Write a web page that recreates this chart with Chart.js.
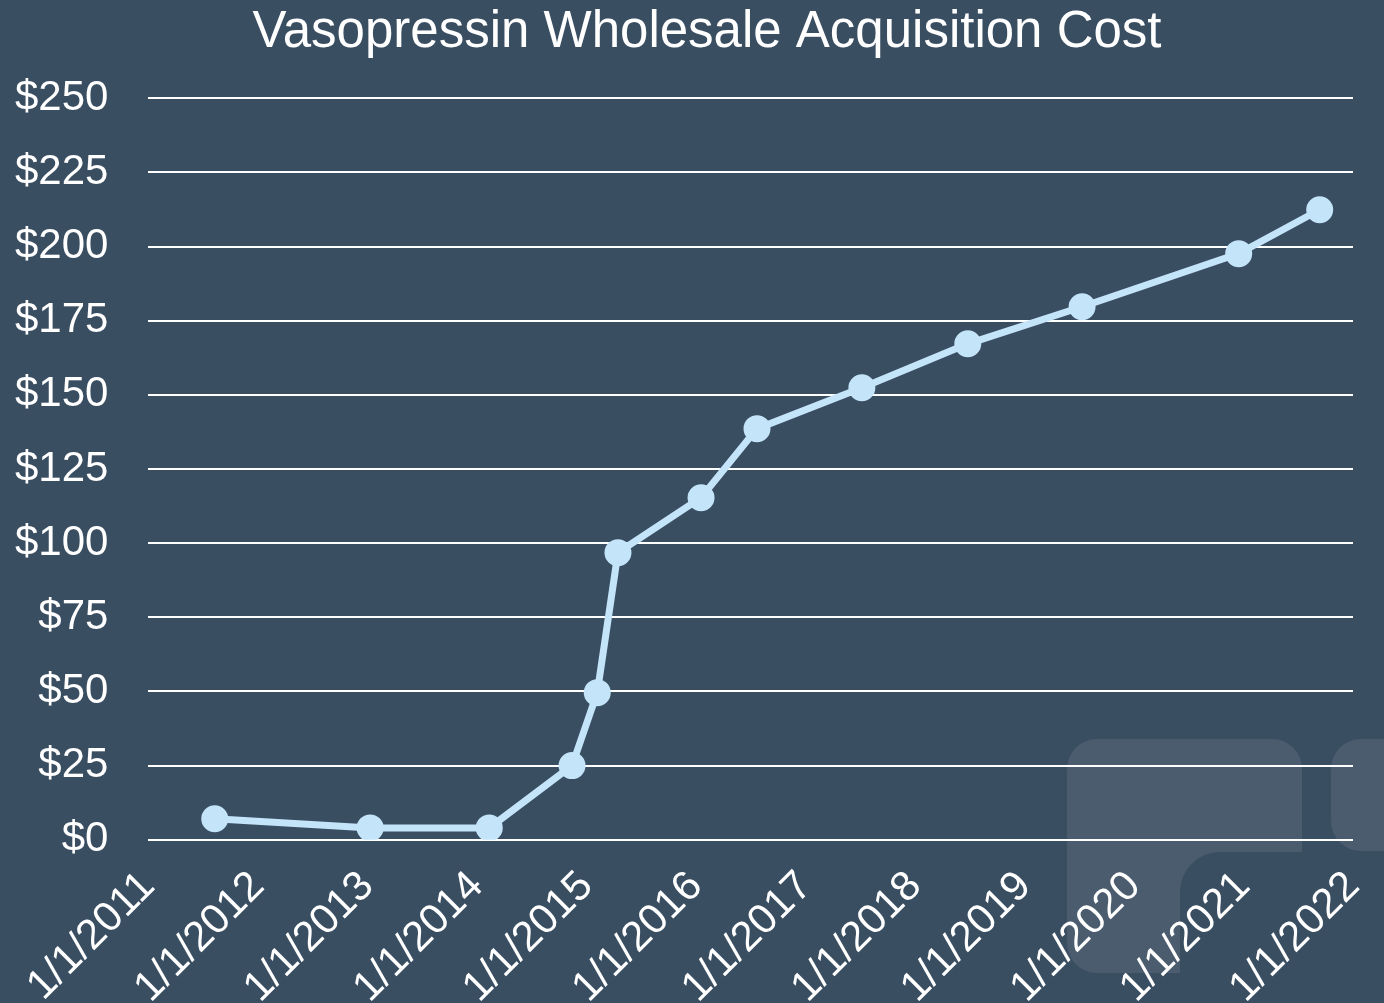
<!DOCTYPE html>
<html>
<head>
<meta charset="utf-8">
<script src="https://cdn.jsdelivr.net/npm/chart.js@4/dist/chart.umd.min.js"></script>
<style>
    html, body { margin: 0; padding: 0; background: #3a4e62; overflow: hidden; }
    #wrap { width: 1384px; height: 1003px; position: relative; }
</style>
</head>
<body>
<div id="wrap"><canvas id="costChart"></canvas></div>
<script>
// price observations (date of change, cost in $)
const dates = ['2011-08-10', '2013-01-10', '2014-02-11', '2014-11-14', '2015-02-06', '2015-04-16',
    '2016-01-18', '2016-07-23', '2017-07-08', '2018-06-26', '2019-07-12', '2020-12-16', '2021-09-12'];
const costs = [7.1, 4.0, 4.0, 25, 49.6, 96.8, 115.3, 138.6, 152.4, 167.2, 179.7, 197.6, 212.4];
const yearTicks = [2011, 2012, 2013, 2014, 2015, 2016, 2017, 2018, 2019, 2020, 2021, 2022];
const costTicks = [0, 25, 50, 75, 100, 125, 150, 175, 200, 225, 250];

const FONT = 'Liberation Sans, Arial, sans-serif';

function toYear(str) {
    const d = new Date(str + 'T00:00:00Z');
    const y = d.getUTCFullYear();
    const start = Date.UTC(y, 0, 1);
    const end = Date.UTC(y + 1, 0, 1);
    return y + (d.getTime() - start) / (end - start);
}

// faint logo shapes behind the plot, lower right
const watermark = {
    id: 'watermark',
    beforeDraw(chart) {
        const ctx = chart.ctx;
        ctx.save();
        ctx.fillStyle = '#4a5c6e';
        ctx.beginPath();
        ctx.roundRect(1067, 739, 235, 234, 30);
        ctx.fill();
        ctx.beginPath();
        ctx.roundRect(1331, 739, 120, 112, 30);
        ctx.fill();
        ctx.fillStyle = '#3a4e62';
        ctx.beginPath();
        ctx.roundRect(1180, 852, 260, 200, 40);
        ctx.fill();
        ctx.restore();
    }
};

// original title sits a bit right of the canvas centre
const titleShift = {
    id: 'titleShift',
    afterLayout(chart) {
        const t = chart.titleBlock;
        if (t) {
            t.left = 2 * 707 - t.right;
            t.width = t.right - t.left;
        }
    }
};

document.addEventListener('DOMContentLoaded', () => {
    Chart.defaults.font.family = FONT;
    Chart.defaults.color = '#ffffff';

    const ctx = document.getElementById('costChart').getContext('2d');
    new Chart(ctx, {
        type: 'line',
        data: {
            datasets: [{
                label: 'Wholesale Acquisition Cost',
                data: dates.map((d, i) => ({ x: toYear(d), y: costs[i] })),
                borderColor: '#c4e4f9',
                backgroundColor: '#c4e4f9',
                borderWidth: 7,
                pointRadius: 10,
                pointHoverRadius: 10,
                tension: 0
            }]
        },
        options: {
            responsive: true,
            maintainAspectRatio: false,
            animation: false,
            layout: { padding: { left: -25, right: 31, top: 0, bottom: -24 } },
            plugins: {
                legend: { display: false },
                tooltip: { enabled: false },
                title: {
                    display: true,
                    text: 'Vasopressin Wholesale Acquisition Cost',
                    color: '#ffffff',
                    font: { size: 51, weight: 'normal', family: FONT },
                    padding: { top: 2, bottom: 35 }
                }
            },
            scales: {
                x: {
                    type: 'linear',
                    min: yearTicks[0],
                    max: yearTicks[yearTicks.length - 1],
                    afterBuildTicks: axis => { axis.ticks = yearTicks.map(v => ({ value: v })); },
                    // let the rotated end labels run off the plot edges like the original
                    afterFit: axis => { axis.paddingLeft = 0; axis.paddingRight = 0; },
                    grid: { display: false },
                    border: { display: false },
                    ticks: {
                        autoSkip: false,
                        minRotation: 45,
                        maxRotation: 45,
                        padding: 14,
                        color: '#ffffff',
                        font: { size: 42, family: FONT },
                        callback: v => '1/1/' + v
                    }
                },
                y: {
                    min: costTicks[0],
                    max: costTicks[costTicks.length - 1],
                    afterBuildTicks: axis => { axis.ticks = costTicks.map(v => ({ value: v })); },
                    grid: { color: '#ffffff', lineWidth: 2, drawTicks: false },
                    border: { display: false },
                    ticks: {
                        padding: 40,
                        color: '#ffffff',
                        font: { size: 42, family: FONT },
                        callback: v => '$' + v
                    }
                }
            }
        },
        plugins: [watermark, titleShift]
    });
});
</script>
</body>
</html>
